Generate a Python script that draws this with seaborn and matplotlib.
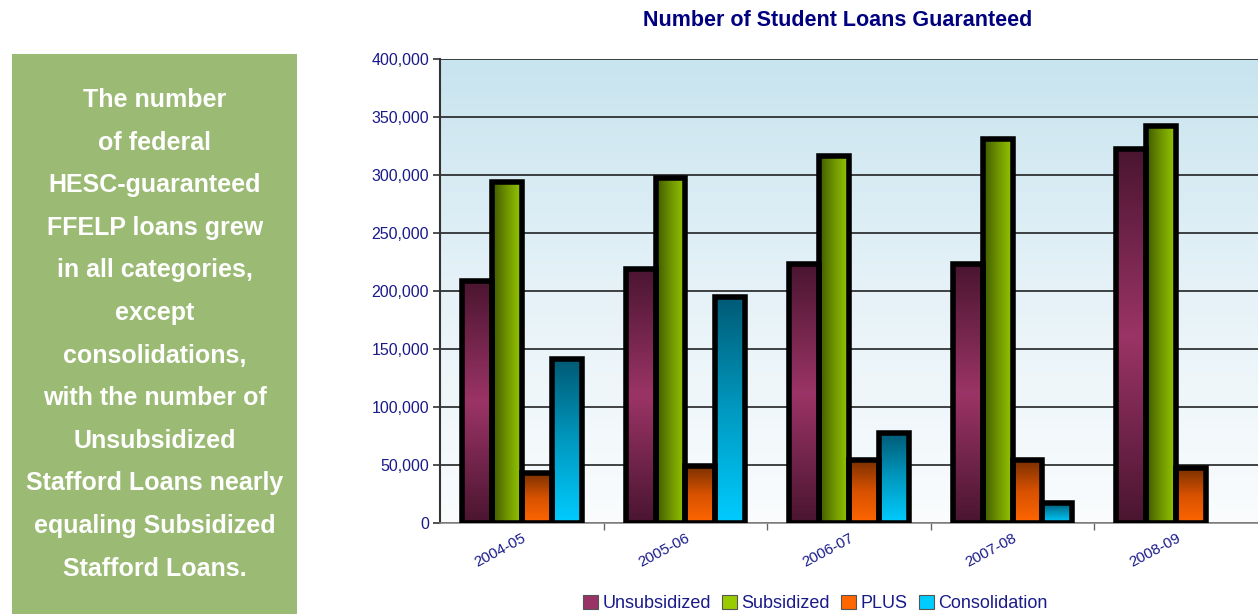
import numpy as np
import pandas as pd
import matplotlib.pyplot as plt
import seaborn as sns
from matplotlib.colors import LinearSegmentedColormap
from matplotlib.patches import Patch, Rectangle
from matplotlib.ticker import StrMethodFormatter

years = ['2004-05', '2005-06', '2006-07', '2007-08', '2008-09']
unsubsidized = [209000, 219000, 223000, 223000, 322000]
subsidized = [294000, 297000, 316000, 331000, 342000]
plus = [43000, 49000, 54000, 54000, 47000]
consolidation = [141000, 195000, 78000, 17000, np.nan]
series = ['Unsubsidized', 'Subsidized', 'PLUS', 'Consolidation']

note_lines = ['The number', 'of federal', 'HESC-guaranteed', 'FFELP loans grew',
              'in all categories,', 'except', 'consolidations,', 'with the number of',
              'Unsubsidized', 'Stafford Loans nearly', 'equaling Subsidized',
              'Stafford Loans.']

df = pd.DataFrame({'year': years, 'Unsubsidized': unsubsidized, 'Subsidized': subsidized,
                   'PLUS': plus, 'Consolidation': consolidation})
df = df.melt(id_vars='year', var_name='type', value_name='loans').dropna()

flat = {'Unsubsidized': '#993366', 'Subsidized': '#99cc00',
        'PLUS': '#ff6600', 'Consolidation': '#00ccff'}
# gradient colours, bottom -> top (or left -> right for Subsidized)
grads = {
    'Unsubsidized': LinearSegmentedColormap.from_list('u', ['#4a1530', '#9b3466', '#4a1530']),
    'Subsidized': LinearSegmentedColormap.from_list('s', ['#3f5800', '#6e9400', '#96c800']),
    'PLUS': LinearSegmentedColormap.from_list('p', ['#ff6600', '#d85200', '#7a3000']),
    'Consolidation': LinearSegmentedColormap.from_list('c', ['#00ccff', '#0099c0', '#005a75']),
}
navy = '#1a1a8a'

sns.set_theme(style='white')
plt.rcParams['font.family'] = ['Liberation Sans', 'DejaVu Sans']

fig = plt.figure(figsize=(12.58, 6.14), dpi=100)
pos = [440 / 1258, 1 - 523 / 614, (1258 - 440) / 1258, (523 - 59) / 614]

# background gradient behind the plot
bg = fig.add_axes(pos, zorder=0)
bg.imshow(np.linspace(0, 1, 256).reshape(-1, 1), aspect='auto', origin='lower',
          cmap=LinearSegmentedColormap.from_list('bg', ['#fafcfd', '#e6f2f8', '#c8e4ef']),
          extent=[0, 1, 0, 1])
bg.axis('off')

ax = fig.add_axes(pos, zorder=1)
ax.set_facecolor('none')
sns.barplot(data=df, x='year', y='loans', hue='type', hue_order=series, order=years,
            palette=flat, width=0.73, edgecolor='black', linewidth=4,
            legend=False, ax=ax)

for container, name in zip(ax.containers, series):
    for bar in container:
        h = bar.get_height()
        if not np.isfinite(h) or h <= 0:
            continue
        x0, w = bar.get_x(), bar.get_width()
        if name == 'Subsidized':
            g = np.linspace(0, 1, 256).reshape(1, -1)
        else:
            g = np.linspace(0, 1, 256).reshape(-1, 1)
        im = ax.imshow(g, cmap=grads[name], extent=[x0, x0 + w, 0, h], origin='lower',
                       aspect='auto', interpolation='bilinear', zorder=2)
        im.set_clip_path(bar)
        bar.set_facecolor('none')
        bar.set_zorder(3)

ax.set_xlim(-0.5, 4.5)
ax.set_ylim(0, 400000)
ax.set_yticks(np.arange(0, 400001, 50000))
ax.yaxis.set_major_formatter(StrMethodFormatter('{x:,.0f}'))
ax.set_axisbelow(True)
ax.yaxis.grid(True, color='#111111', linewidth=1.1)
ax.xaxis.grid(False)
ax.set_xlabel('')
ax.set_ylabel('')

ax.tick_params(axis='y', which='major', length=5, width=1.2, color='#333333',
               labelsize=11.5, labelcolor=navy, pad=3, left=True)
ax.set_xticks([0.5, 1.5, 2.5, 3.5], minor=True)
ax.tick_params(axis='x', which='minor', length=5, width=1, color='#666666', bottom=True)
ax.tick_params(axis='x', which='major', length=0, labelsize=11, labelcolor=navy, pad=6)
for lbl in ax.get_xticklabels():
    lbl.set_rotation(28)
    lbl.set_ha('right')
    lbl.set_rotation_mode('anchor')

for side in ['top', 'right']:
    ax.spines[side].set_visible(False)
ax.spines['left'].set_color('#333333')
ax.spines['left'].set_linewidth(1.5)
ax.spines['bottom'].set_color('#888888')
ax.spines['bottom'].set_linewidth(1.2)

fig.text(838 / 1258, 1 - 20 / 614, 'Number of Student Loans Guaranteed', ha='center',
         va='center', fontsize=15.5, fontweight='bold', color='#000080')

handles = [Patch(facecolor=flat[s], edgecolor='#555555', linewidth=0.8) for s in series]
fig.legend(handles, series, loc='center', bbox_to_anchor=(0.648, 0.017), ncol=4,
           frameon=False, fontsize=13, handlelength=0.85, handleheight=0.85,
           handletextpad=0.25, columnspacing=0.6, labelcolor=navy)

# green note box on the left
fig.add_artist(Rectangle((12 / 1258, 0), (297 - 12) / 1258, 1 - 54 / 614,
                         transform=fig.transFigure, facecolor='#9bba74', edgecolor='none'))
for i, line in enumerate(note_lines):
    fig.text(155 / 1258, 1 - (100 + i * 42.6) / 614, line, ha='center', va='center',
             fontsize=18, fontweight='bold', color='white')

fig.savefig('out.png', dpi=100)
